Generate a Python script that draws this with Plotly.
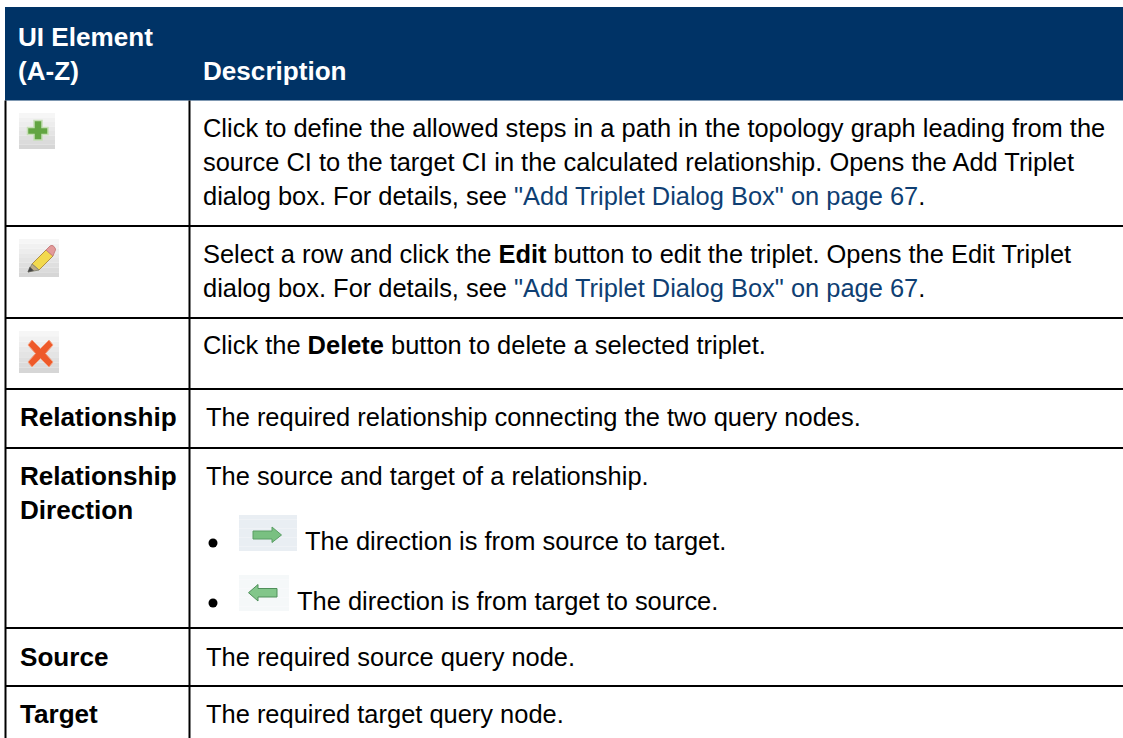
import plotly.graph_objects as go

FONT = "Liberation Sans"
NAVY = "#003366"
LINK = "#0F3F73"
SIZE = 25.45
SIZE_BOLD = 26.1

col_left = 5.5
col_split = 189.5
header_bottom = 100.5
row_rules = [226, 318, 389, 448, 628, 686]

L = '<span style="color:%s">"Add Triplet Dialog Box" on page 67</span>' % LINK

header_text = [
    (17, 45, "<b>UI Element</b>"),
    (17, 79, "<b>(A-Z)</b>"),
    (202, 79, "<b>Description</b>"),
]
left_text = [
    (19, 425, "<b>Relationship</b>"),
    (19, 484, "<b>Relationship</b>"),
    (19, 518, "<b>Direction</b>"),
    (19, 665, "<b>Source</b>"),
    (19, 722, "<b>Target</b>"),
]
right_text = [
    (202, 136, "Click to define the allowed steps in a path in the topology graph leading from the"),
    (202, 170, "source CI to the target CI in the calculated relationship. Opens the Add Triplet"),
    (202, 204, "dialog box. For details, see " + L + "."),
    (202, 262, "Select a row and click the <b>Edit</b> button to edit the triplet. Opens the Edit Triplet"),
    (202, 296, "dialog box. For details, see " + L + "."),
    (202, 353, "Click the <b>Delete</b> button to delete a selected triplet."),
    (205, 425, "The required relationship connecting the two query nodes."),
    (205, 484, "The source and target of a relationship."),
    (304, 549, "The direction is from source to target."),
    (296, 609, "The direction is from target to source."),
    (205, 665, "The required source query node."),
    (205, 722, "The required target query node."),
]
bullets = [(213, 543), (213, 603)]

# icon tiles: x0, y0, x1, y1, top colour, bottom colour
tiles = [
    (19, 113, 55, 149, "#F6F6F6", "#D6D6D6"),
    (19, 239, 59, 277, "#F6F6F6", "#D6D6D6"),
    (19, 331, 59, 373, "#F6F6F6", "#D6D6D6"),
    (239, 515, 297, 551, "#E9EEF3", "#E9EEF3"),
    (239, 575, 289, 611, "#F5F8F9", "#F5F8F9"),
]
icon_paths = [
    # plus
    ("M34 120.5 H42 V127.5 H48 V134.5 H42 V140 H34 V134.5 H27.5 V127.5 H34 Z", "#62A542", "#C5DFB5", 1.5),
    # pencil body
    ("M32 264 L46 250 L53 256 L39 270 Z", "#F2D94E", "#B08F45", 1),
    # pencil eraser
    ("M46 250 L50 246 Q52 244.5 54 246.5 L55.5 249 Q55.5 251 54.5 252 L53 256 Z", "#E39A9A", "#C88080", 1),
    # pencil wood
    ("M32 264 L39 270 L28 272 Z", "#BBAA88", "#8A8A7A", 1),
    # pencil tip
    ("M28 272 L29.8 267 L33.5 270.5 Z", "#444444", "#555555", 0.5),
    # cross
    ("M32 340 L40.5 348.5 L49 340 L53 345 L45.5 353.5 L53 362 L49 367 L40.5 358.5 L32 367 L28 362 L35.5 353.5 L28 345 Z", "#EE5A2A", "#F4A080", 1),
    # right arrow
    ("M253 531 H272 V527 L281.5 535 L272 542.5 V539 H253 Z", "#79C081", "#5A9E64", 1),
    # left arrow
    ("M277 588.5 H258 V584.5 L248.5 592.7 L258 601 V597 H277 Z", "#82C68A", "#4F8F5A", 1),
]

shapes = []
# header band
shapes.append(dict(type="rect", x0=col_left - 0.5, x1=1123, y0=7, y1=header_bottom,
                   fillcolor=NAVY, line_width=0, layer="below"))
# grid rules
for y in row_rules:
    shapes.append(dict(type="line", x0=col_left - 0.5, x1=1123, y0=y, y1=y,
                       line=dict(color="black", width=2)))
for x in (col_left, col_split):
    shapes.append(dict(type="line", x0=x, x1=x, y0=header_bottom, y1=738,
                       line=dict(color="black", width=2)))
# icon backgrounds as stacked bands
BANDS = 8
def mix(a, b, t):
    ca = [int(a[i:i + 2], 16) for i in (1, 3, 5)]
    cb = [int(b[i:i + 2], 16) for i in (1, 3, 5)]
    return "#%02X%02X%02X" % tuple(round(p + (q - p) * t) for p, q in zip(ca, cb))
for x0, y0, x1, y1, c0, c1 in tiles:
    for i in range(BANDS):
        shapes.append(dict(type="rect", x0=x0, x1=x1,
                           y0=y0 + (y1 - y0) * i / BANDS,
                           y1=y0 + (y1 - y0) * (i + 1) / BANDS,
                           fillcolor=mix(c0, c1, i / (BANDS - 1)), line_width=0))
for path, fill, stroke, w in icon_paths:
    shapes.append(dict(type="path", path=path, fillcolor=fill,
                       line=dict(color=stroke, width=w)))
# bullets
for bx, by in bullets:
    shapes.append(dict(type="circle", x0=bx - 4.5, x1=bx + 4.5, y0=by - 4.5, y1=by + 4.5,
                       fillcolor="black", line_width=0))

BASE_OFFSET = 8  # baseline sits this far below the text box centre

def note(x, base, text, color, size):
    return dict(x=x, y=base - BASE_OFFSET, text=text, showarrow=False, xanchor="left",
                yanchor="middle", xref="x", yref="y", borderpad=0,
                font=dict(family=FONT, size=size, color=color), align="left")

annotations = [note(x, b, t, "white", SIZE_BOLD) for x, b, t in header_text]
annotations += [note(x, b, t, "black", SIZE_BOLD) for x, b, t in left_text]
annotations += [note(x, b, t, "black", SIZE) for x, b, t in right_text]

fig = go.Figure()
fig.update_layout(
    width=1123, height=738, margin=dict(l=0, r=0, t=0, b=0),
    paper_bgcolor="white", plot_bgcolor="white", showlegend=False,
    xaxis=dict(range=[0, 1123], visible=False, fixedrange=True),
    yaxis=dict(range=[738, 0], visible=False, fixedrange=True),
    shapes=shapes, annotations=annotations,
)
fig.write_html("out.html", config=dict(displayModeBar=False, responsive=False),
               post_script="document.body.style.margin='0';")
